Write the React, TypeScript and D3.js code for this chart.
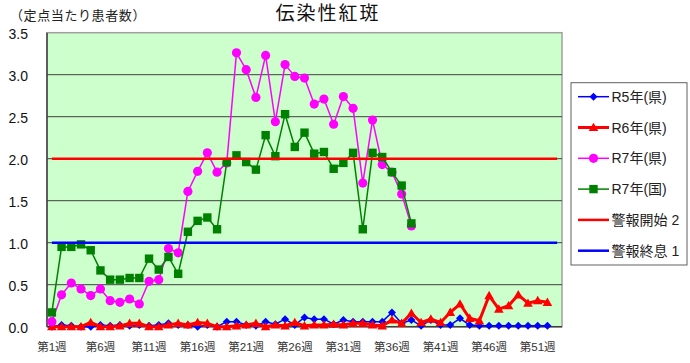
import * as d3 from "d3";

const width = 690;
const height = 363;

const weeks = d3.range(1, 54);
const tickWeeks = [1, 6, 11, 16, 21, 26, 31, 36, 41, 46, 51];
const yTicks = [0, 0.5, 1, 1.5, 2, 2.5, 3, 3.5];

// R5年（県）
const r5Pref = [
	0.0, 0.02, 0.01, 0.0, 0.0, 0.02, 0.01, 0.02, 0.01, 0.02,
	0.01, 0.02, 0.04, 0.02, 0.02, 0.0, 0.02, 0.0, 0.06, 0.06,
	0.02, 0.01, 0.06, 0.03, 0.09, 0.02, 0.11, 0.09, 0.09, 0.03,
	0.08, 0.06, 0.06, 0.06, 0.06, 0.17, 0.04, 0.08, 0.01, 0.08,
	0.02, 0.02, 0.1, 0.02, 0.01, 0.01, 0.01, 0.01, 0.01, 0.01,
	0.01, 0.01,
];
// R6年（県）
const r6Pref = [
	0.0, 0.0, 0.0, 0.0, 0.05, 0.0, 0.0, 0.01, 0.04, 0.04,
	0.0, 0.0, 0.02, 0.04, 0.02, 0.05, 0.04, 0.0, 0.0, 0.01,
	0.02, 0.04, 0.0, 0.02, 0.01, 0.05, 0.01, 0.02, 0.02, 0.03,
	0.02, 0.04, 0.04, 0.02, 0.01, 0.08, 0.04, 0.16, 0.05, 0.09,
	0.05, 0.17, 0.27, 0.1, 0.07, 0.37, 0.21, 0.25, 0.38, 0.28,
	0.31, 0.29,
];
// R7年（県）
const r7Pref = [
	0.06, 0.38, 0.52, 0.45, 0.37, 0.45, 0.31, 0.29, 0.33, 0.27,
	0.54, 0.56, 0.93, 0.88, 1.61, 1.85, 2.07, 1.84, 1.95, 3.26,
	3.06, 2.73, 3.23, 2.44, 3.12, 2.98, 2.96, 2.65, 2.71, 2.41,
	2.74, 2.6, 1.71, 2.46, 1.93, 1.84, 1.58, 1.2,
];
// R7年（国）
const r7Nation = [
	0.17, 0.95, 0.95, 0.98, 0.91, 0.67, 0.56, 0.56, 0.58, 0.58,
	0.81, 0.68, 0.83, 0.63, 1.13, 1.26, 1.3, 1.16, 1.96, 2.04,
	1.96, 1.87, 2.28, 2.03, 2.53, 2.14, 2.31, 2.06, 2.08, 1.88,
	1.95, 2.07, 1.16, 2.07, 2.02, 1.84, 1.68, 1.23,
];
const alertStart = 2;
const alertEnd = 1;

const fontJa = "'Liberation Sans', 'Noto Sans CJK JP', sans-serif";

const x = d3.scaleBand<number>().domain(weeks).range([47, 562]);
const cx = (w: number) => (x(w) ?? 0) + x.bandwidth() / 2;
const y = d3.scaleLinear().domain([0, 3.5]).range([326.7, 32.7]);

const seriesLine = d3
	.line<number>()
	.x((d, i) => cx(i + 1))
	.y((d) => y(d));

const diamond = (px: number, py: number, r: number) =>
	`M${px},${py - r}L${px + r},${py}L${px},${py + r}L${px - r},${py}Z`;
const triangle = (px: number, py: number, r: number) =>
	`M${px},${py - r}L${px + r},${py + r * 0.75}L${px - r},${py + r * 0.75}Z`;

const marker = (kind: string, px: number, py: number, color: string, key?: any) => {
	if (kind === "diamond")
		return <path key={key} d={diamond(px, py, 4)} fill={color} />;
	if (kind === "triangle")
		return <path key={key} d={triangle(px, py, 4.8)} fill={color} />;
	if (kind === "circle")
		return <circle key={key} cx={px} cy={py} r={4.6} fill={color} />;
	return <rect key={key} x={px - 4.2} y={py - 4.2} width={8.4} height={8.4} fill={color} />;
};

const series = [
	{ name: "R5年(県)", data: r5Pref, color: "#0000FF", width: 1.5, kind: "diamond" },
	{ name: "R6年(県)", data: r6Pref, color: "#FF0000", width: 3, kind: "triangle" },
	{ name: "R7年(県)", data: r7Pref, color: "#FF00FF", width: 1.5, kind: "circle" },
	{ name: "R7年(国)", data: r7Nation, color: "#008000", width: 1.5, kind: "square" },
];

const thresholds = [
	{ name: "警報開始 2", value: alertStart, color: "#FF0000" },
	{ name: "警報終息 1", value: alertEnd, color: "#0000FF" },
];

const App = () => {
	const left = x.range()[0];
	const right = x.range()[1];
	const legendX = 571;
	const legendRows = [...series.map((s) => ({ ...s, line: true })), ...thresholds];

	return (
		<div style={{ position: "absolute", left: 0, top: 0 }}>
			<svg width={width} height={height} style={{ display: "block" }}>
				<rect width={width} height={height} fill="#fff" />
				<text x={10} y={19.5} fontSize={13} fontFamily={fontJa} fill="#222" letterSpacing={0.6}>
					（定点当たり患者数）
				</text>
				<text x={328} y={20} fontSize={19} fontFamily={fontJa} fill="#111" textAnchor="middle" letterSpacing={2}>
					伝染性紅斑
				</text>

				<rect x={left} y={y(3.5)} width={right - left} height={y(0) - y(3.5)} fill="#CCFFCC" stroke="#A0A0A0" strokeWidth={1.5} />
				{yTicks.slice(1, -1).map((t) => (
					<line key={t} x1={left} x2={right} y1={y(t)} y2={y(t)} stroke="#404040" strokeWidth={1} />
				))}
				<line x1={left} x2={left} y1={y(3.5)} y2={y(0)} stroke="#404040" strokeWidth={1.5} />
				<line x1={left} x2={right} y1={y(0)} y2={y(0)} stroke="#404040" strokeWidth={1.5} />

				{yTicks.map((t) => (
					<text key={t} x={28} y={y(t) + 6} fontSize={14} fontFamily={fontJa} fill="#111" textAnchor="end">
						{t.toFixed(1)}
					</text>
				))}
				{tickWeeks.map((w) => (
					<text key={w} x={cx(w)} y={351} fontSize={11.5} fontFamily={fontJa} fill="#333" textAnchor="middle">
						{`第${w}週`}
					</text>
				))}

				{series.map((s) => (
					<g key={s.name}>
						<path d={seriesLine(s.data) ?? ""} fill="none" stroke={s.color} strokeWidth={s.width} strokeLinejoin="round" />
						{s.data.map((d, i) => marker(s.kind, cx(i + 1), y(d), s.color, i))}
					</g>
				))}
				{thresholds.map((t) => (
					<line key={t.name} x1={cx(1)} x2={cx(53)} y1={y(t.value)} y2={y(t.value)} stroke={t.color} strokeWidth={2.5} />
				))}

				<rect x={legendX} y={82.7} width={116} height={182.3} fill="#fff" stroke="#606060" strokeWidth={1} />
				{legendRows.map((r: any, i) => {
					const ly = 96.7 + i * 30.8;
					return (
						<g key={r.name}>
							<line x1={578} x2={609} y1={ly} y2={ly} stroke={r.color} strokeWidth={r.width ?? 2.5} />
							{r.kind && marker(r.kind, 593.5, ly, r.color)}
							<text x={611.5} y={ly + 5} fontSize={14} fontFamily={fontJa} fill="#222">
								{r.name}
							</text>
						</g>
					);
				})}
			</svg>
		</div>
	);
};

export default App;
